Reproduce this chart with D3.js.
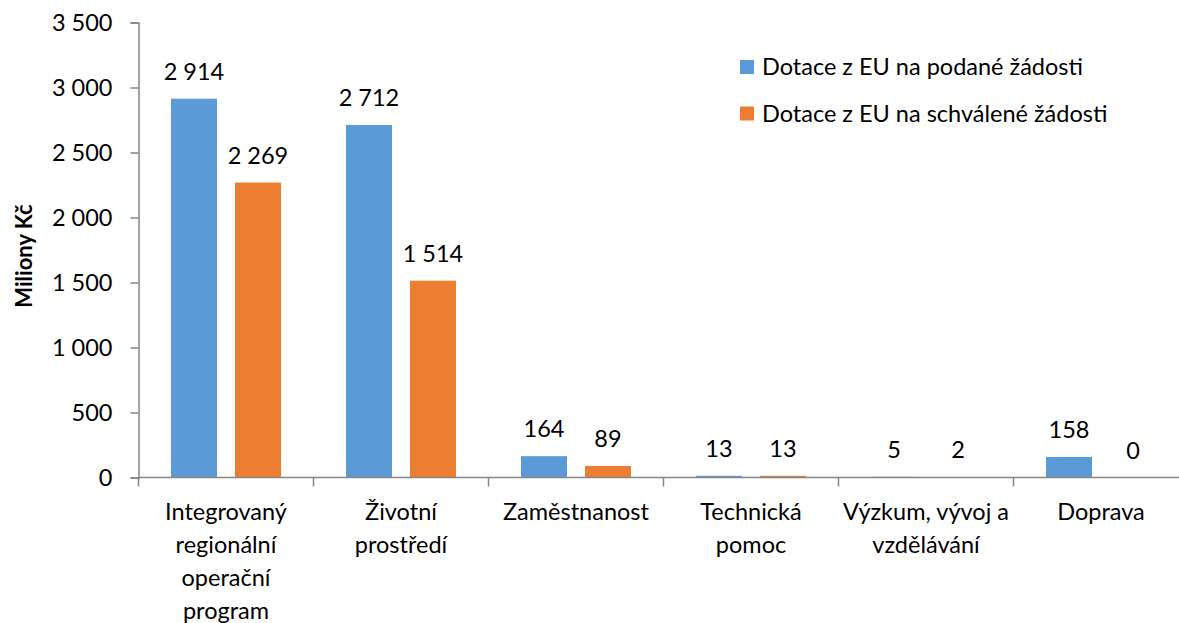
<!DOCTYPE HTML>
<html>
  <head>
    <meta charset="utf-8">
    <style>
      body { margin: 0px; background: #fff; }
      text { font-family: Lato, "Open Sans", sans-serif; fill: #000; }
    </style>
  </head>
  <body>
    <script src="https://cdn.jsdelivr.net/npm/d3@7/dist/d3.min.js"></script>
    <script>

      // *** DATA ***
      var categories = [
        "Integrovaný\nregionální\noperační\nprogram",
        "Životní\nprostředí",
        "Zaměstnanost",
        "Technická\npomoc",
        "Výzkum, vývoj a\nvzdělávání",
        "Doprava"
      ];
      var seriesNames = ["Dotace z EU na podané žádosti", "Dotace z EU na schválené žádosti"];
      var podane = [2914, 2712, 164, 13, 5, 158];
      var schvalene = [2269, 1514, 89, 13, 2, 0];
      var yTicks = [0, 500, 1000, 1500, 2000, 2500, 3000, 3500];
      var colors = ["#5B9BD5", "#ED7D31"];

      // *** SETUP ***
      var W = 1179, H = 623;
      var mLeft = 138.5, mRight = 1188.5, mTop = 22.5, mBottom = 477.5;
      var fs = "23.5px";

      var cz = d3.formatLocale({decimal: ",", thousands: "\u00a0", grouping: [3], currency: ["", " Kč"]});
      var fmt = cz.format(",d");

      var svg = d3.select("body").append("svg")
        .attr("width", W)
        .attr("height", H);

      var x0 = d3.scaleBand()
        .domain(d3.range(categories.length))
        .range([mLeft, mRight]);

      var x1 = d3.scaleBand()
        .domain([0, 1])
        .range([0, x0.bandwidth()])
        .paddingInner(0.28125)
        .paddingOuter(0.508);

      var y = d3.scaleLinear()
        .domain([0, 3500])
        .range([mBottom, mTop]);

      // y axis
      var yAxis = svg.append("g")
        .attr("transform", "translate(" + mLeft + ",0)")
        .call(d3.axisLeft(y).tickValues(yTicks).tickSize(8).tickPadding(18).tickFormat(fmt));
      yAxis.selectAll("text").style("font-size", fs).attr("font-family", null);
      yAxis.selectAll("line, path").attr("stroke", "#868686").attr("stroke-width", 1.5);

      // bars
      var rows = categories.map(function(c, i){ return [podane[i], schvalene[i]]; });

      var groups = svg.selectAll("g.cat").data(rows)
        .enter().append("g")
          .attr("class", "cat")
          .attr("transform", function(d, i){ return "translate(" + x0(i) + ",0)"; });

      groups.selectAll("rect").data(function(d){ return d; })
        .enter().append("rect")
          .attr("x", function(d, j){ return x1(j); })
          .attr("y", function(d){ return y(d); })
          .attr("width", x1.bandwidth())
          .attr("height", function(d){ return mBottom - y(d); })
          .style("fill", function(d, j){ return colors[j]; });

      groups.selectAll("text.lbl").data(function(d){ return d; })
        .enter().append("text")
          .attr("class", "lbl")
          .attr("x", function(d, j){ return x1(j) + x1.bandwidth()/2; })
          .attr("y", function(d){ return y(d) - 19; })
          .style("font-size", fs)
          .style("text-anchor", "middle")
          .text(function(d){ return fmt(d); });

      // x axis
      var xAxis = svg.append("g")
        .attr("transform", "translate(0," + mBottom + ")");
      xAxis.append("line")
        .attr("x1", mLeft).attr("x2", mRight)
        .attr("stroke", "#868686").attr("stroke-width", 1.5);
      xAxis.selectAll("line.div").data(d3.range(categories.length + 1))
        .enter().append("line")
          .attr("x1", function(d){ return mLeft + d * x0.step(); })
          .attr("x2", function(d){ return mLeft + d * x0.step(); })
          .attr("y1", 0).attr("y2", 9)
          .attr("stroke", "#868686").attr("stroke-width", 1.5);

      var catLabels = xAxis.selectAll("text.cat").data(categories)
        .enter().append("text")
          .attr("class", "cat")
          .attr("x", function(d, i){ return x0(i) + x0.bandwidth()/2; })
          .attr("y", 42)
          .style("font-size", fs)
          .style("text-anchor", "middle");
      catLabels.selectAll("tspan").data(function(d){ return d.split("\n"); })
        .enter().append("tspan")
          .attr("x", function(){ return d3.select(this.parentNode).attr("x"); })
          .attr("dy", function(d, k){ return k === 0 ? 0 : 33; })
          .text(function(d){ return d; });

      // y label
      svg.append("text")
        .attr("transform", "translate(32,256) rotate(-90)")
        .style("font-size", "22px")
        .style("font-weight", "bold")
        .style("text-anchor", "middle")
        .text("Miliony Kč");

      // legend
      var legend = svg.selectAll("g.leg").data(seriesNames)
        .enter().append("g")
          .attr("class", "leg")
          .attr("transform", function(d, i){ return "translate(740," + (60 + i * 46.5) + ")"; });
      legend.append("rect")
        .attr("width", 14).attr("height", 14)
        .style("fill", function(d, i){ return colors[i]; });
      legend.append("text")
        .attr("x", 22).attr("y", 15)
        .style("font-size", fs)
        .text(function(d){ return d; });

    </script>
  </body>
</html>
